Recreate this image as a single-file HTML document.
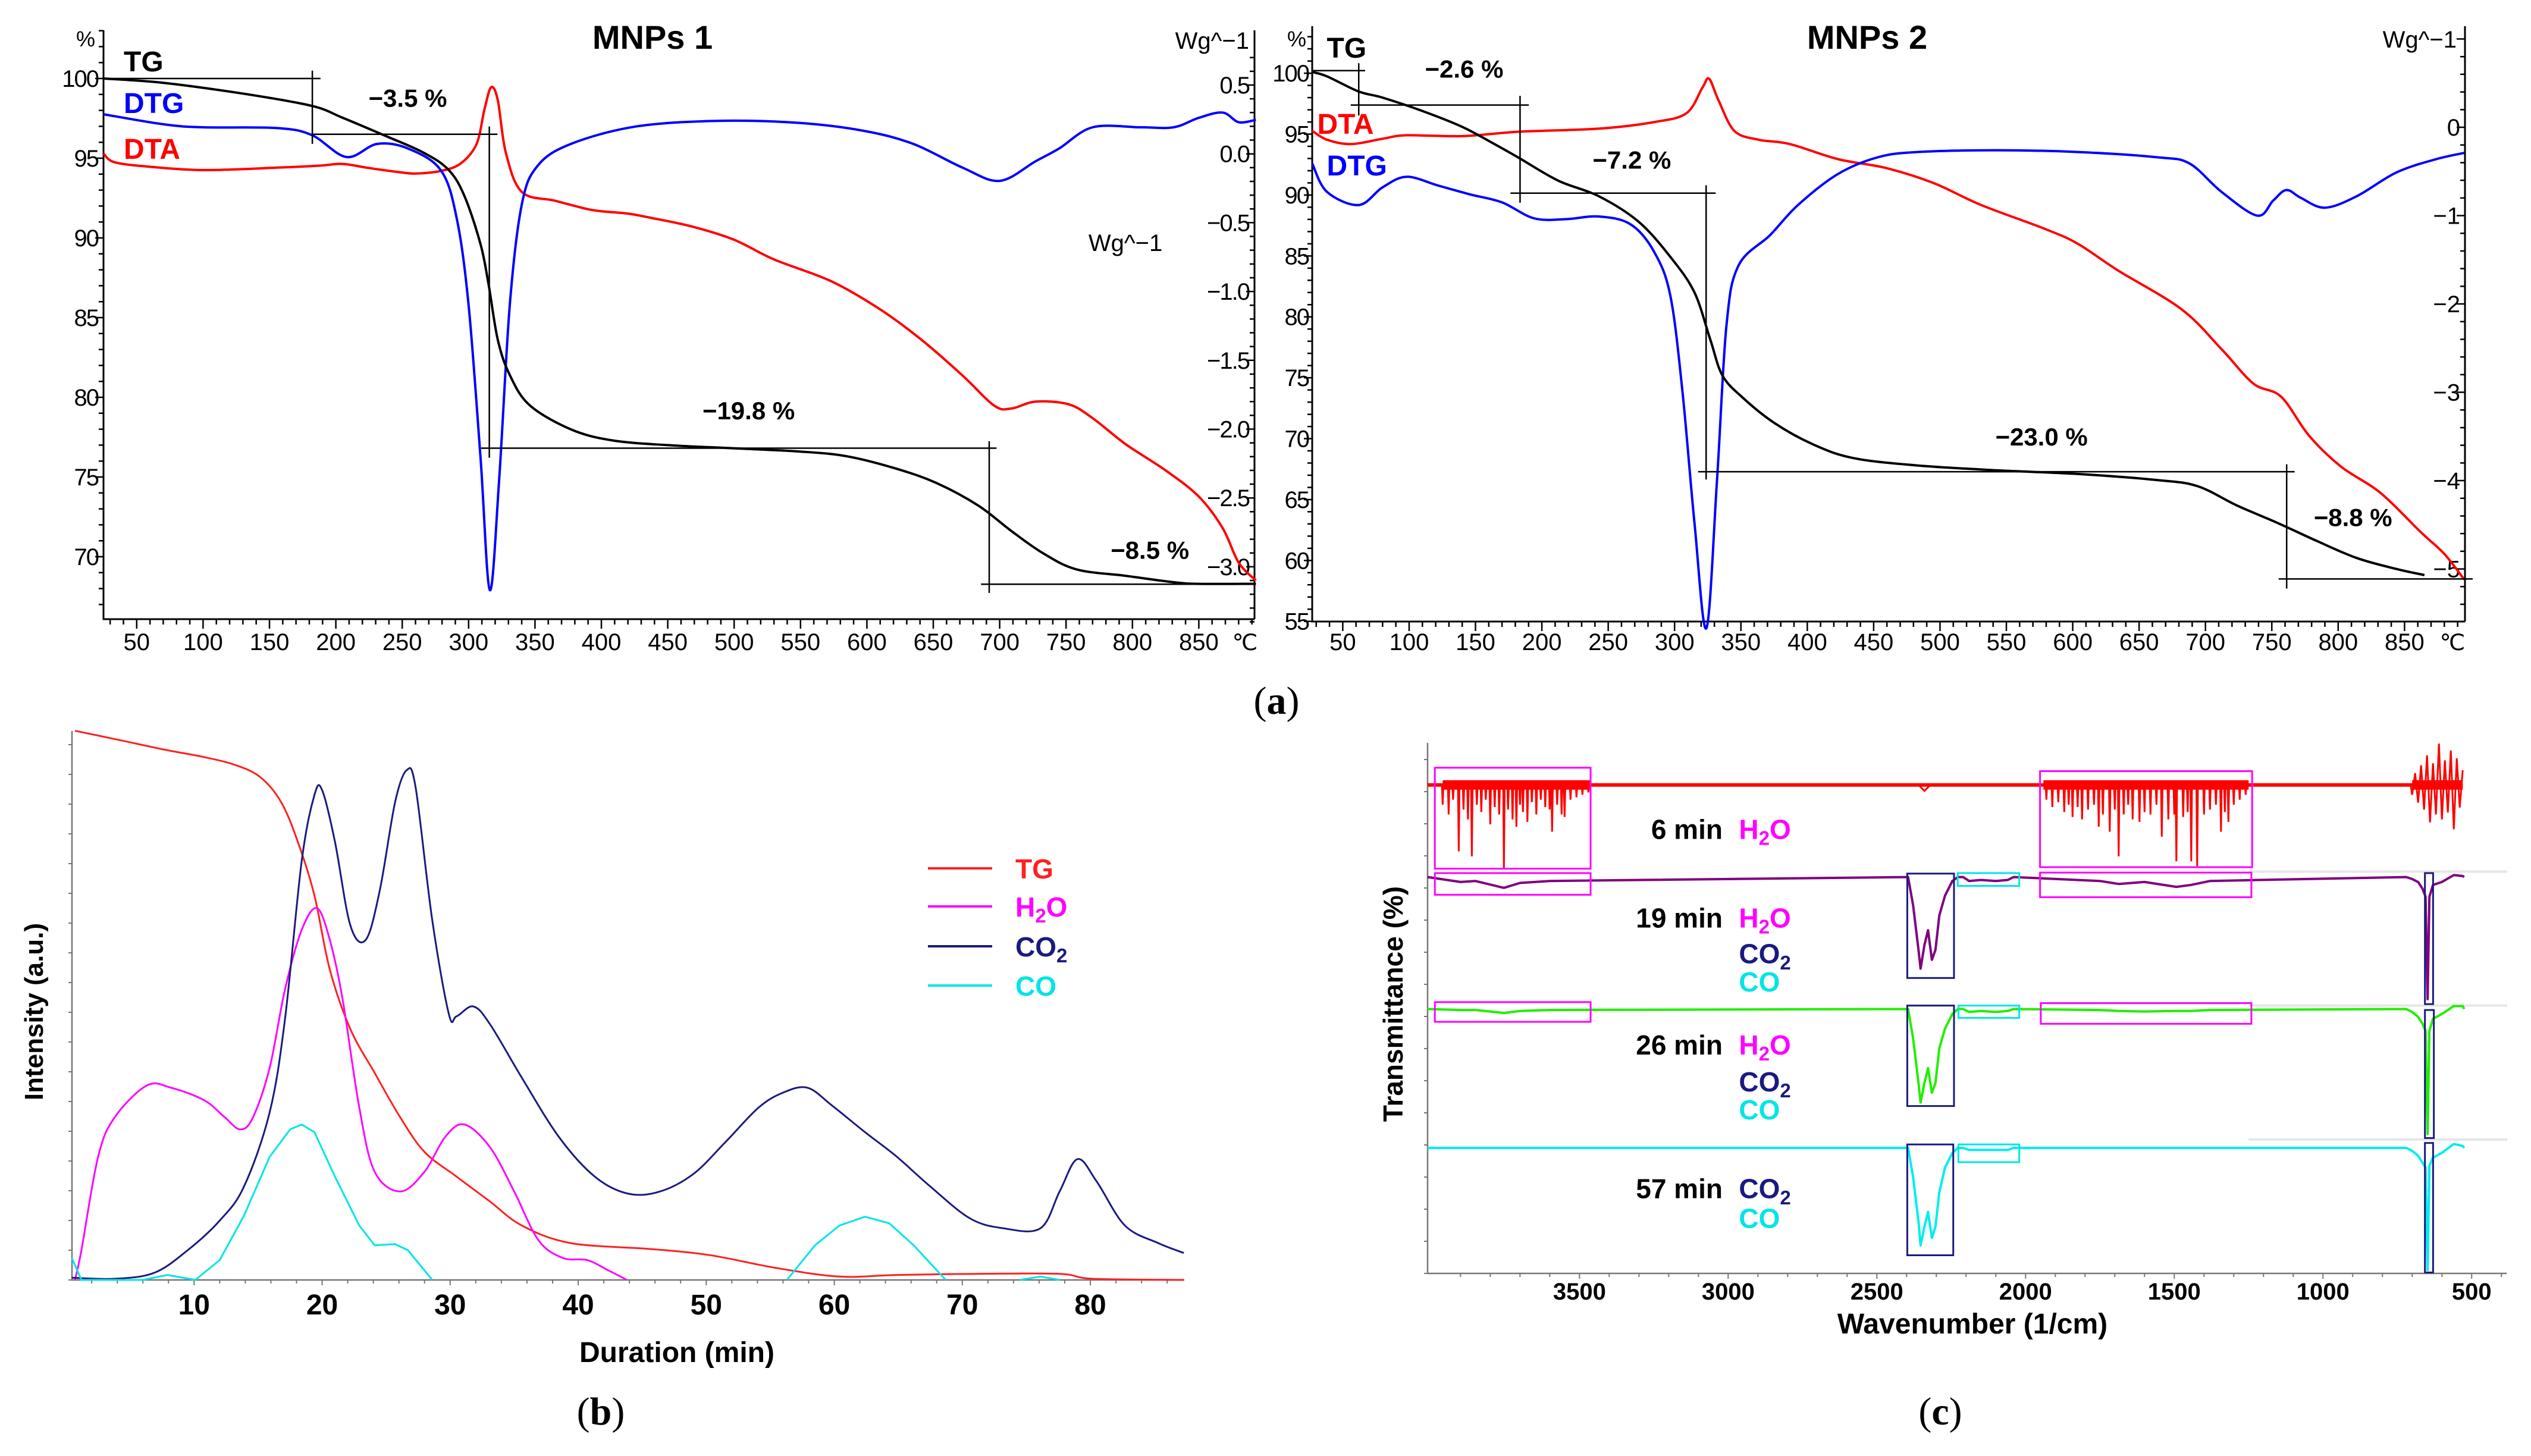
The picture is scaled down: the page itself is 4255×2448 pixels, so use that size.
<!DOCTYPE html>
<html><head><meta charset="utf-8"><title>TGA / TG-FTIR figure</title>
<style>
html,body{margin:0;padding:0;background:#fff;}
svg{display:block;font-family:"Liberation Sans",sans-serif;}
</style></head>
<body>
<svg id="fig" xmlns="http://www.w3.org/2000/svg" width="4255" height="2448" viewBox="0 0 4255 2448">
<rect width="4255" height="2448" fill="#fff"/>
<g id="pa1"></g>
<g id="pa2"></g>
<g id="pb"></g>
<g id="pc"></g>
<text x="2146" y="1200" font-family="Liberation Serif,serif" font-size="66" text-anchor="middle">(<tspan font-weight="bold">a</tspan>)</text>
<text x="1010" y="2395" font-family="Liberation Serif,serif" font-size="66" text-anchor="middle">(<tspan font-weight="bold">b</tspan>)</text>
<text x="3262" y="2395" font-family="Liberation Serif,serif" font-size="66" text-anchor="middle">(<tspan font-weight="bold">c</tspan>)</text>
</svg>
<script>
// ===== Panel a (MNPs 1) data =====
const m1TgT = [25,70,131,182,205,236,266,285,297,309,315,322,331,346,377,408,450,500,549,585,623,653,684,709,733,758,795,831,850,893];
const m1Tg = [100,99.73,99.04,98.28,97.54,96.45,95.35,94.26,92.6,89.6,87.1,83.6,81.4,79.5,77.99,77.3,77.0,76.8,76.6,76.3,75.5,74.6,73.2,71.6,70.2,69.2,68.8,68.4,68.3,68.3];
const m1DtgT = [25,70,100,156,182,208,231,254,279,291,300,309,316,323,331,340,352,377,426,487,549,598,635,672,700,727,745,770,806,831,850,868,880,893];
const m1Dtg = [0.288,0.215,0.193,0.187,0.136,-0.023,0.072,0.04,-0.118,-0.466,-1.10,-2.21,-3.17,-2.37,-1.10,-0.37,-0.086,0.072,0.199,0.24,0.225,0.167,0.072,-0.10,-0.196,-0.054,0.04,0.193,0.193,0.193,0.262,0.30,0.23,0.247];
const m1DtaT = [25,33,58,100,156,187,205,223,248,260,279,294,306,312,317,322,328,340,365,389,401,420,438,469,500,530,573,610,641,672,696,709,727,752,770,795,825,850,868,880,893];
const m1Dta = [0.003,-0.06,-0.092,-0.118,-0.10,-0.086,-0.073,-0.10,-0.133,-0.143,-0.124,-0.07,0.072,0.326,0.484,0.389,0.01,-0.276,-0.34,-0.40,-0.418,-0.434,-0.466,-0.53,-0.624,-0.767,-0.925,-1.13,-1.35,-1.61,-1.83,-1.85,-1.80,-1.82,-1.92,-2.11,-2.30,-2.49,-2.72,-2.97,-3.10];
const m1LeftTicks = [100,95,90,85,80,75,70];
const m1RightTicks = [0.5,0.0,-0.5,-1.0,-1.5,-2.0,-2.5,-3.0];
const tempTicks = [50,100,150,200,250,300,350,400,450,500,550,600,650,700,750,800,850];
// ===== Panel a (MNPs 2) data =====
const m2TgT = [27,38,62,80,110,140,164,182,212,243,273,297,315,327,336,351,375,405,435,483,543,604,664,694,724,754,784,814,844,865];
const m2Tg = [100.1,99.75,98.5,98.0,96.9,95.6,94.2,93.1,91.2,89.9,87.8,84.9,82.0,78.1,75.2,73.4,71.3,69.5,68.4,67.8,67.4,67.1,66.6,66.1,64.5,63.1,61.6,60.2,59.3,58.8];
const m2DtgT = [27,38,62,80,98,122,146,170,194,218,243,267,285,297,306,315,324,332,339,348,372,393,423,453,483,543,604,664,688,712,739,751,761,772,790,814,844,874,895];
const m2Dtg = [-0.41,-0.73,-0.88,-0.68,-0.56,-0.66,-0.76,-0.85,-1.03,-1.04,-1.01,-1.10,-1.42,-1.92,-3.0,-4.48,-5.67,-3.99,-2.26,-1.57,-1.22,-0.88,-0.53,-0.34,-0.28,-0.26,-0.28,-0.34,-0.41,-0.73,-1.0,-0.83,-0.71,-0.80,-0.91,-0.78,-0.51,-0.36,-0.29];
const m2DtaT = [27,38,56,80,98,140,182,243,285,309,321,326,333,345,363,387,423,459,495,531,579,604,634,682,712,736,757,778,802,832,862,880,895];
const m2Dta = [-0.04,-0.14,-0.19,-0.13,-0.09,-0.10,-0.05,-0.015,0.06,0.16,0.45,0.55,0.31,-0.04,-0.14,-0.19,-0.36,-0.46,-0.63,-0.88,-1.15,-1.32,-1.62,-2.06,-2.51,-2.90,-3.05,-3.49,-3.84,-4.14,-4.58,-4.83,-5.12];
const m2LeftTicks = [100,95,90,85,80,75,70,65,60,55];
const m2RightTicks = [0,-1,-2,-3,-4,-5];
// ===== Panel b data =====
const bTgT = [0.7,4.4,7.6,10.8,13.3,15.2,16.8,18.1,19.4,20.6,22.2,24.1,26.1,28.0,30.5,33.1,35.6,39.4,45.8,50.3,55.4,60.4,64.9,71.3,77.6,80.2,87.3];
const bTg = [1.0,0.982,0.966,0.952,0.937,0.915,0.87,0.798,0.70,0.565,0.457,0.377,0.296,0.233,0.188,0.143,0.099,0.067,0.056,0.045,0.022,0.006,0.009,0.011,0.011,0.002,0];
const bH2oT = [0.7,1.2,2.5,3.8,6.3,8.2,10.8,12.4,13.6,14.6,15.9,17.1,18.4,19.6,20.6,21.6,22.9,24.1,26.1,28.0,29.6,31.1,33.1,35.0,36.9,38.8,40.7,42.3,43.8];
const bH2o = [0,0.054,0.224,0.296,0.354,0.350,0.327,0.296,0.274,0.296,0.386,0.529,0.637,0.677,0.619,0.511,0.314,0.197,0.161,0.197,0.260,0.283,0.242,0.161,0.072,0.040,0.036,0.018,0];
const bCo2T = [0.45,3.8,6.9,9.5,12.0,13.9,15.9,17.1,18.4,19.4,20.0,21.0,22.2,23.4,24.5,25.7,26.6,27.3,28.6,29.9,30.5,31.8,33.1,35.6,38.5,41.3,43.9,46.4,49.0,51.5,54.1,56.0,57.9,59.8,62.4,64.9,67.5,70.6,73.2,76.1,77.6,79.0,80.5,82.7,85.3,87.3];
const bCo2 = [0.004,0.002,0.013,0.054,0.108,0.170,0.305,0.475,0.762,0.883,0.892,0.798,0.646,0.619,0.709,0.87,0.928,0.897,0.655,0.484,0.480,0.498,0.466,0.368,0.260,0.188,0.157,0.161,0.193,0.251,0.314,0.341,0.350,0.318,0.269,0.224,0.170,0.112,0.094,0.094,0.161,0.220,0.179,0.099,0.067,0.049];
const bCoT = [0.45,1.2,6.0,7.9,10.1,12.0,13.9,15.9,17.5,18.4,19.4,21.0,22.9,24.1,25.7,26.7,28.6,56.3,58.5,60.4,62.4,64.3,66.2,68.7,74.5,76.1,77.6];
const bCo = [0.04,0,0,0.009,0,0.036,0.117,0.224,0.274,0.283,0.269,0.188,0.099,0.063,0.065,0.054,0,0,0.063,0.099,0.115,0.103,0.063,0,0,0.006,0];
const bXTicks = [10,20,30,40,50,60,70,80];
// ===== Panel c data =====
const cXTicks = [3500,3000,2500,2000,1500,1000,500];
const redSpikeWn = [3960,3940,3925,3906,3890,3875,3862,3845,3830,3815,3800,3785,3770,3754,3740,3725,3712,3700,3690,3675,3660,3645,3630,3615,3600,3592,3575,3560,3550,3530,3510,3490,3470,1930,1910,1890,1870,1855,1842,1825,1810,1790,1770,1754,1740,1717,1700,1687,1670,1655,1640,1617,1600,1580,1560,1542,1520,1500,1493,1470,1455,1443,1423,1400,1380,1360,1343,1330,1318,1300,1280,1260];
const redSpikeT = [80,70,85,32.5,75,65,27.5,80,72.5,85,60,77.5,70,15,75,65,57.5,80,72.5,62.5,82.5,70,85,77.5,75,52.5,80,70,67.5,85,87.5,90,92.5,85,77.5,82.5,72.5,80,67.5,77.5,65,75,80,57.5,70,52.5,75,27.5,70,80,65,62.5,72.5,70,80,47.5,65,70,22.5,67.5,72.5,22.5,17.5,70,75,80,52.5,72.5,62.5,80,85,90];
const redEndWn = [700,690,680,670,660,650,640,630,620,610,600,590,580,570,560,550,540,530];
const redEndT = [90,112,82,120,75,130,62,122,70,142,65,125,72,135,55,127,77,115];
const co2Wn = [2395,2378,2360,2353,2340,2328,2315,2303,2290,2271,2246,2228];
const t19Co2 = [100,71,26,7,31,46,16,26,61,81,96,100];
const t26Co2 = [100,70,25,5,25,40,15,25,60,80,95,100];
const t57Co2 = [100,70,25,1,20,35,8.5,20,55,80,95,100];
const bendWn = [720,700,680,665,655,648,642,630,600,560,530];
const t19Bend = [100,98,95,88,80,-24,80,92,95,102,101];
const t26Bend = [100,97,92,85,78,-27,78,90,95,103,103];
const t57Bend = [100,97,92,85,80,-24,82,90,95,104,102];
const coWn = [2210,2190,2150,2100,2060,2040];
const t19Co = [100,96,97,96,97,100];
const t26Co = [100,97,98,97,98,100];
const t57Co = [100,98,98,98,98,100];
const h2oSmallWn = [3900,3850,3754,3700,3600,1750,1687,1600,1493,1443,1380];
const t19H2o = [95,96,89,94,96,96,93,95,90,92,96];
const t26H2o = [99,99,96,98,99,99,98,97.5,98,98,99];

// ===== helpers =====
const NS = "http://www.w3.org/2000/svg";
function mk(parent, tag, attrs){const e=document.createElementNS(NS,tag);for(const k in attrs)e.setAttribute(k,attrs[k]);parent.appendChild(e);return e;}
function smoothPath(pts){
  if(pts.length<2)return "";
  let d="M"+pts[0][0].toFixed(1)+","+pts[0][1].toFixed(1);
  for(let i=0;i<pts.length-1;i++){
    const p0=pts[i-1]||pts[i],p1=pts[i],p2=pts[i+1],p3=pts[i+2]||p2;
    const c1x=p1[0]+(p2[0]-p0[0])/6,c1y=p1[1]+(p2[1]-p0[1])/6;
    const c2x=p2[0]-(p3[0]-p1[0])/6,c2y=p2[1]-(p3[1]-p1[1])/6;
    d+=" C"+c1x.toFixed(1)+","+c1y.toFixed(1)+" "+c2x.toFixed(1)+","+c2y.toFixed(1)+" "+p2[0].toFixed(1)+","+p2[1].toFixed(1);
  }
  return d;
}
function linePath(pts){return pts.map((p,i)=>(i?"L":"M")+p[0].toFixed(1)+","+p[1].toFixed(1)).join(" ");}
function txt(parent,x,y,s,attrs){const t=mk(parent,"text",Object.assign({x:x,y:y},attrs||{}));t.textContent=s;return t;}
function sub(parent,x,y,base,subs,tail,attrs,fs){
  const t=mk(parent,"text",Object.assign({x:x,y:y},attrs||{}));
  const a=mk(t,"tspan",{});a.textContent=base;
  const b=mk(t,"tspan",{dy:fs*0.22,"font-size":fs*0.72});b.textContent=subs;
  if(tail){const c=mk(t,"tspan",{dy:-fs*0.22});c.textContent=tail;}
  return t;
}

// ===== Panel a, MNPs 1 =====
(function(){
  const g=document.getElementById("pa1");
  const X=t=>174+(t-25)/50*111.6, YL=p=>132+(100-p)/5*134, YR=v=>143+(0.5-v)*231.4;
  const L=174,R=2109,T=51,B=1041;
  let e;
  e=mk(g,"path",{d:`M${L},${T}V${B}H${R}M${R},${T}V${B}`,stroke:"#000","stroke-width":3,fill:"none"});
  
  
  let tk="";
  for(let t=30;t<=890;t+=10){const x=X(t);tk+=`M${x},${B}v${t%50===0?16:9}`;}
  for(let p=67;p<=103;p++){const y=YL(p);tk+=`M${L},${y}h${p%5===0?-14:-8}`;}
  for(let v=-3.4;v<=0.75;v+=0.1){const y=YR(v);tk+=`M${R},${y}h${Math.abs(Math.round(v*10))%5===0?-14:-8}`;}
  e=mk(g,"path",{d:tk,stroke:"#000","stroke-width":2.5,fill:"none"});
  
  
  tempTicks.forEach(t=>{const l=txt(g,X(t),1093,String(t),{"font-size":40,"text-anchor":"middle"});
    
    });
  e=txt(g,2093,1093,"℃",{"font-size":38,"text-anchor":"middle"});
  
  
  m1LeftTicks.forEach(p=>{const l=txt(g,165,YL(p)+14,String(p),{"font-size":40,"text-anchor":"end","letter-spacing":"-2"});
    
    });
  e=txt(g,160,78,"%",{"font-size":36,"text-anchor":"end"});
  
  
  m1RightTicks.forEach(v=>{const l=txt(g,2100,YR(v)+14,(v<0?"−":"")+Math.abs(v).toFixed(1),{"font-size":40,"text-anchor":"end","letter-spacing":"-2"});
    
    });
  e=txt(g,2100,82,"Wg^−1",{"font-size":40,"text-anchor":"end"});
  
  
  e=txt(g,1892,422,"Wg^−1",{"font-size":40,"text-anchor":"middle"});
  
  
  e=txt(g,1097,82,"MNPs 1",{"font-size":56,"font-weight":"bold","text-anchor":"middle"});
  
  
  e=mk(g,"path",{d:smoothPath(m1DtaT.map((t,i)=>[X(t),YR(m1Dta[i])])),stroke:"#ff0000","stroke-width":4,fill:"none"});
  
  
  e=mk(g,"path",{d:smoothPath(m1DtgT.map((t,i)=>[X(t),YR(m1Dtg[i])])),stroke:"#0000ff","stroke-width":4,fill:"none"});
  
  
  e=mk(g,"path",{d:smoothPath(m1TgT.map((t,i)=>[X(t),YL(m1Tg[i])])),stroke:"#000","stroke-width":4,fill:"none"});
  
  
  const zx=v=>v*1.371, zy=v=>v*0.733;
  const segs=[[127,180,393,180],[383,162,383,330],[383,308,610,308],[600,290,600,1050],[590,1028,1222,1028],[1213,1012,1213,1360],[1203,1340,1540,1340]];
  let ad="";segs.forEach(s=>{ad+=`M${zx(s[0])},${zy(s[1])}L${zx(s[2])},${zy(s[3])}`;});
  e=mk(g,"path",{d:ad,stroke:"#000","stroke-width":2.5,fill:"none"});
  
  
  [["−3.5 %",500,245],["−19.8 %",918,962],["−8.5 %",1410,1282]].forEach(a=>{const l=txt(g,zx(a[1]),zy(a[2]),a[0],{"font-size":42,"font-weight":"bold","text-anchor":"middle"});
    
    });
  [["TG","#000",120],["DTG","#0000ff",190],["DTA","#ff0000",267]].forEach(a=>{const l=txt(g,208,a[2],a[0],{"font-size":48,"font-weight":"bold",fill:a[1]});
    
    });
})();

// ===== Panel a, MNPs 2 =====
(function(){
  const g=document.getElementById("pa2");
  const X=t=>2150+(80+(t-50)/50*83.1)*1.3425, YL=p=>(168+(100-p)/5*139.7)*0.733, YR=v=>(292-v*202.6)*0.733;
  const L=2206,R=4144,T=44,B=1045;
  let e;
  e=mk(g,"path",{d:`M${L},${T}V${B}H${R}M${R},${T}V${B}`,stroke:"#000","stroke-width":3,fill:"none"});
  
  
  let tk="";
  for(let t=30;t<=890;t+=10){const x=X(t);tk+=`M${x},${B}v${t%50===0?16:9}`;}
  for(let p=55;p<=103;p++){const y=YL(p);tk+=`M${L},${y}h${p%5===0?-14:-8}`;}
  for(let v=-5.4;v<=1.1;v+=0.2){const y=YR(v);tk+=`M${R},${y}h${Math.abs(Math.round(v*10))%10===0?-14:-8}`;}
  e=mk(g,"path",{d:tk,stroke:"#000","stroke-width":2.5,fill:"none"});
  
  
  tempTicks.forEach(t=>{const l=txt(g,X(t),1093,String(t),{"font-size":40,"text-anchor":"middle"});
    
    });
  e=txt(g,4123,1093,"℃",{"font-size":38,"text-anchor":"middle"});
  
  
  m2LeftTicks.forEach(p=>{const l=txt(g,2200,YL(p)+14,String(p),{"font-size":40,"text-anchor":"end","letter-spacing":"-2"});
    
    });
  e=txt(g,2196,78,"%",{"font-size":36,"text-anchor":"end"});
  
  
  m2RightTicks.forEach(v=>{const l=txt(g,4136,YR(v)+14,(v<0?"−":"")+Math.abs(v),{"font-size":40,"text-anchor":"end"});
    
    });
  e=txt(g,4130,80,"Wg^−1",{"font-size":40,"text-anchor":"end"});
  
  
  e=txt(g,3139,82,"MNPs 2",{"font-size":56,"font-weight":"bold","text-anchor":"middle"});
  
  
  e=mk(g,"path",{d:smoothPath(m2DtaT.map((t,i)=>[X(t),YR(m2Dta[i])])),stroke:"#ff0000","stroke-width":4,fill:"none"});
  
  
  e=mk(g,"path",{d:smoothPath(m2DtgT.map((t,i)=>[X(t),YR(m2Dtg[i])])),stroke:"#0000ff","stroke-width":4,fill:"none"});
  
  
  e=mk(g,"path",{d:smoothPath(m2TgT.map((t,i)=>[X(t),YL(m2Tg[i])])),stroke:"#000","stroke-width":4,fill:"none"});
  
  
  const zx=v=>2150+v*1.3425, zy=v=>v*0.733;
  const segs=[[42,162,108,162],[100,145,100,265],[90,241,313,241],[302,220,302,465],[290,443,547,443],[535,425,535,1100],[525,1082,1272,1082],[1262,1065,1262,1350],[1252,1328,1495,1328]];
  let ad="";segs.forEach(s=>{ad+=`M${zx(s[0])},${zy(s[1])}L${zx(s[2])},${zy(s[3])}`;});
  e=mk(g,"path",{d:ad,stroke:"#000","stroke-width":2.5,fill:"none"});
  
  
  [["−2.6 %",232,178],["−7.2 %",442,387],["−23.0 %",955,1022],["−8.8 %",1345,1207]].forEach(a=>{const l=txt(g,zx(a[1]),zy(a[2]),a[0],{"font-size":42,"font-weight":"bold","text-anchor":"middle"});
    
    });
  [["TG","#000",zx(60),97],["DTA","#ff0000",zx(48),225],["DTG","#0000ff",zx(60),295]].forEach(a=>{const l=txt(g,a[2],a[3],a[0],{"font-size":48,"font-weight":"bold",fill:a[1]});
    
    });
})();

// ===== Panel b =====
(function(){
  const g=document.getElementById("pb");
  const X=t=>(238+(t-10)*15.7)*1.371, Y=v=>1150+(1210-v*1115)*0.828;
  const L=121,R=1991,T=1229,B=2152;
  let e;
  e=mk(g,"path",{d:`M${L},${T}V${B}H${R}`,stroke:"#777","stroke-width":2.5,fill:"none"});
  
  
  let tk="";
  for(let t=2;t<=86;t+=2){tk+=`M${X(t)},${B}v${t%10===0?9:6}`;}
  for(let y=B;y>=T;y-=50){tk+=`M${L},${y}h-6`;}
  e=mk(g,"path",{d:tk,stroke:"#777","stroke-width":2,fill:"none"});
  
  
  bXTicks.forEach(t=>{const l=txt(g,X(t),2210,String(t),{"font-size":48,"font-weight":"bold","text-anchor":"middle"});
    
    });
  e=txt(g,1138,2290,"Duration (min)",{"font-size":48,"font-weight":"bold","text-anchor":"middle"});
  
  
  e=txt(g,0,0,"Intensity (a.u.)",{"font-size":44,"font-weight":"bold","text-anchor":"middle",transform:"translate(72,1701) rotate(-90)"});
  
  
  e=mk(g,"path",{d:smoothPath(bTgT.map((t,i)=>[X(t),Y(bTg[i])])),stroke:"#ff2020","stroke-width":3,fill:"none"});
  
  
  e=mk(g,"path",{d:smoothPath(bH2oT.map((t,i)=>[X(t),Y(bH2o[i])])),stroke:"#ff00ff","stroke-width":3,fill:"none"});
  
  
  e=mk(g,"path",{d:smoothPath(bCo2T.map((t,i)=>[X(t),Y(bCo2[i])])),stroke:"#1a1a80","stroke-width":3,fill:"none"});
  
  
  e=mk(g,"path",{d:linePath(bCoT.slice(0,17).map((t,i)=>[X(t),Y(bCo[i])]))+" "+linePath(bCoT.slice(17,24).map((t,i)=>[X(t),Y(bCo[i+17])]))+" "+linePath(bCoT.slice(24).map((t,i)=>[X(t),Y(bCo[i+24])])),stroke:"#00e5e5","stroke-width":3,fill:"none","stroke-linejoin":"round"});
  
  
  const leg=[["TG","#ff2020",1460],["H2O","#ff00ff",1524],["CO2","#1a1a80",1591],["CO","#00e5e5",1657]];
  leg.forEach(a=>{
    const lg=mk(g,"g",{});
    
    
    mk(lg,"line",{x1:1560,y1:a[2],x2:1668,y2:a[2],stroke:a[1],"stroke-width":4});
    if(a[0]==="H2O")sub(lg,1707,a[2]+17,"H","2","O",{"font-size":46,"font-weight":"bold",fill:a[1]},46);
    else if(a[0]==="CO2")sub(lg,1707,a[2]+17,"CO","2","",{"font-size":46,"font-weight":"bold",fill:a[1]},46);
    else txt(lg,1707,a[2]+17,a[0],{"font-size":46,"font-weight":"bold",fill:a[1]});
  });
})();

// ===== Panel c =====
(function(){
  const g=document.getElementById("pc");
  const X=w=>2300+(285+(3500-w)/500*200.5)*1.2468;
  const baseZ=[205,392,660,942];
  const Yk=(k,t)=>1150+(baseZ[k]+(100-t)*2)*0.828;
  const L=2400,R=4214,T=1249,B=2141;
  let e;
  e=mk(g,"path",{d:`M3780,${1150+381*0.828}H4215M3780,${1150+653*0.828}H4215M3780,${1150+925*0.828}H4215`,stroke:"#e6e6e6","stroke-width":4,fill:"none"});
  
  
  e=mk(g,"path",{d:`M${L},${T}V${B}H${R}`,stroke:"#777","stroke-width":2.5,fill:"none"});
  
  
  let tk="";
  for(let w=3900;w>=400;w-=100){tk+=`M${X(w)},${B}v${w%500===0?9:6}`;}
  for(let y=B;y>=T;y-=54){tk+=`M${L},${y}h-6`;}
  e=mk(g,"path",{d:tk,stroke:"#777","stroke-width":2,fill:"none"});
  
  
  cXTicks.forEach(w=>{const l=txt(g,X(w),2185,String(w),{"font-size":40,"font-weight":"bold","text-anchor":"middle"});
    
    });
  e=txt(g,3316,2242,"Wavenumber (1/cm)",{"font-size":48,"font-weight":"bold","text-anchor":"middle"});
  
  
  e=txt(g,0,0,"Transmittance (%)",{"font-size":46,"font-weight":"bold","text-anchor":"middle",transform:"translate(2358,1688) rotate(-90)"});
  
  
  // red (6 min)
  let redPts=[[4011,100],[705,100],[390,100]];
  redSpikeWn.forEach((w,i)=>{redPts.push([w+2.5,100],[w,redSpikeT[i]],[w-2.5,100]);});
  redEndWn.forEach((w,i)=>redPts.push([w,redEndT[i]]));
  redPts.push([2360,100],[2340,94],[2320,100]);
  redPts.sort((a,b)=>b[0]-a[0]);
  e=mk(g,"path",{d:`M${X(4011)},${Yk(0,100)}H${X(530)}`,stroke:"#ff0000","stroke-width":6,fill:"none"});
  
  
  e=mk(g,"path",{d:`M${X(3960)},${Yk(0,100)}H${X(3460)}M${X(1940)},${Yk(0,100)}H${X(1250)}M${X(700)},${Yk(0,100)}H${X(530)}`,stroke:"#ff0000","stroke-width":16,fill:"none"});
  
  
  e=mk(g,"path",{d:linePath(redPts.filter(p=>p[0]<=4011&&p[0]>=525).map(p=>[X(p[0]),Yk(0,p[1])])),stroke:"#ff0000","stroke-width":3,fill:"none"});
  
  
  const traces=[[1,"#800080",t19Co2,t19Bend,t19Co,t19H2o,"19min"],[2,"#22ee00",t26Co2,t26Bend,t26Co,t26H2o,"26min"],[3,"#00eeee",t57Co2,t57Bend,t57Co,null,"57min"]];
  traces.forEach(tr=>{
    const f=[[co2Wn,tr[2]],[bendWn,tr[3]],[coWn,tr[4]]];
    if(tr[5])f.push([h2oSmallWn,tr[5]]);
    let pts=[[4011,100],[525,100]];
    f.forEach(ff=>ff[0].forEach((w,i)=>pts.push([w,ff[1][i]])));
    pts.sort((a,b)=>b[0]-a[0]);
    pts=pts.filter(p=>p[0]>=525);
    const p=mk(g,"path",{d:linePath(pts.map(q=>[X(q[0]),Yk(tr[0],q[1])])),stroke:tr[1],"stroke-width":4,fill:"none","stroke-linejoin":"round"});
    
    
  });
  const cx=v=>2300+v*1.2468, cy=v=>1150+v*0.828;
  const boxes=[
    [90,170,300,375,"#ff00ff"],[906,177,1192,372,"#ff00ff"],[90,384,300,428,"#ff00ff"],[906,383,1191,433,"#ff00ff"],[90,646,300,686,"#ff00ff"],[907,648,1191,690,"#ff00ff"],
    [727,385,790,597,"#1a1a80"],[727,653,790,857,"#1a1a80"],[727,935,789,1160,"#1a1a80"],[1425,384,1436,650,"#1a1a80"],[1425,662,1437,922,"#1a1a80"],[1425,932,1436,1195,"#1a1a80"],
    [795,384,878,410,"#00e5e5"],[796,653,878,678,"#00e5e5"],[796,935,878,971,"#00e5e5"]];
  boxes.forEach(b=>{const r=mk(g,"rect",{x:cx(b[0]),y:cy(b[1]),width:cx(b[2])-cx(b[0]),height:cy(b[3])-cy(b[1]),fill:"none",stroke:b[4],"stroke-width":3});
    
    });
  const fs=46;
  const lab=[["6 min",295,[["H2O",295]]],["19 min",475,[["H2O",475],["CO2",548],["CO",605]]],["26 min",733,[["H2O",733],["CO2",808],["CO",865]]],["57 min",1025,[["CO2",1025],["CO",1085]]]];
  lab.forEach(l=>{
    const lg=mk(g,"g",{});
    
    
    txt(lg,cx(478),cy(l[1])+16,l[0],{"font-size":fs,"font-weight":"bold","text-anchor":"end"});
    l[2].forEach(s=>{
      const y=cy(s[1])+16;
      if(s[0]==="H2O")sub(lg,cx(500),y,"H","2","O",{"font-size":fs,"font-weight":"bold",fill:"#ff00ff"},fs);
      else if(s[0]==="CO2")sub(lg,cx(500),y,"CO","2","",{"font-size":fs,"font-weight":"bold",fill:"#1a1a80"},fs);
      else txt(lg,cx(500),y,"CO",{"font-size":fs,"font-weight":"bold",fill:"#00e5e5"});
    });
  });
})();
</script>
</body></html>
